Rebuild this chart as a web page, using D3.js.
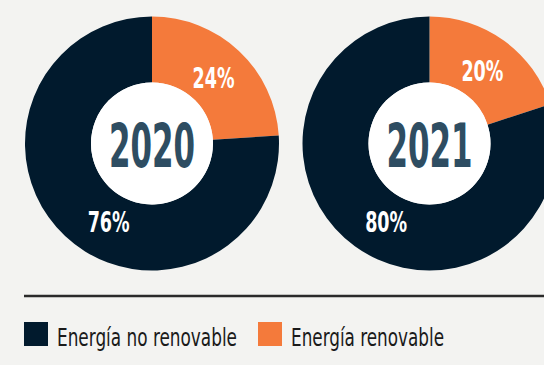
<!DOCTYPE html>
<html>
<head>
<meta charset="utf-8">
<script src="https://cdn.jsdelivr.net/npm/d3@7"></script>
<style>
  html, body { margin: 0; padding: 0; background: #f3f3f1; }
  svg { display: block; }
</style>
</head>
<body>
<svg id="chart" width="544" height="365"></svg>
<script>
// Energy mix by year: share of non-renewable vs renewable energy (%)
const years = ["2020", "2021"];
const categories = ["Energía no renovable", "Energía renovable"];
const nonRenewable = [76, 80];
const renewable = [24, 20];

const colors = ["#011a2d", "#f47a3b"];

const svg = d3.select("#chart");
const W = 544, H = 365;

svg.append("rect").attr("width", W).attr("height", H).attr("fill", "#f3f3f1");

// Donut geometry
const outerR = 127, innerR = 61;
const cx = d3.scalePoint().domain(years).range([152, 429.5]);
const cy = 143.5;

// Renewable slice starts at 12 o'clock and runs clockwise
const pie = d3.pie().sort(null).value(d => d.value)
  .startAngle(0).endAngle(2 * Math.PI);
const arc = d3.arc().innerRadius(innerR).outerRadius(outerR);

const labelFont = "'Liberation Sans Narrow', 'DejaVu Sans Condensed', 'Arial Narrow', sans-serif";

years.forEach((year, i) => {
  const data = [
    { key: categories[1], value: renewable[i], color: colors[1] },
    { key: categories[0], value: nonRenewable[i], color: colors[0] }
  ];
  const g = svg.append("g").attr("transform", `translate(${cx(year)},${cy})`);

  const arcs = pie(data);
  g.selectAll("path.slice").data(arcs).join("path")
    .attr("class", "slice")
    .attr("d", arc)
    .attr("fill", d => d.data.color);

  g.append("circle").attr("r", innerR).attr("fill", "#ffffff");

  g.append("text")
    .attr("x", 0).attr("y", 23.5)
    .attr("text-anchor", "middle")
    .attr("font-family", labelFont)
    .attr("font-weight", "bold")
    .attr("font-size", 61)
    .attr("fill", "#2e4d62")
    .attr("textLength", 86)
    .attr("lengthAdjust", "spacingAndGlyphs")
    .text(year);

  // Percentage labels: small slice at its mid-angle, large slice in the lower-left
  const labelR = 90;
  arcs.forEach(a => {
    const share = a.data.value / 100;
    const ang = share < 0.5 ? (a.startAngle + a.endAngle) / 2 : 2 * Math.PI * 0.58;
    const x = labelR * Math.sin(ang);
    const y = -labelR * Math.cos(ang);
    g.append("text")
      .attr("x", x).attr("y", y + 10)
      .attr("text-anchor", "middle")
      .attr("font-family", labelFont)
      .attr("font-weight", "bold")
      .attr("font-size", 28)
      .attr("fill", "#ffffff")
      .attr("textLength", 42)
      .attr("lengthAdjust", "spacingAndGlyphs")
      .text(a.data.value + "%");
  });
});

// Divider rule
svg.append("line")
  .attr("x1", 24).attr("x2", W)
  .attr("y1", 296).attr("y2", 296)
  .attr("stroke", "#2a2a2a").attr("stroke-width", 2.5);

// Legend
const legendItems = [
  { label: categories[0], color: colors[0], x: 24, w: 180 },
  { label: categories[1], color: colors[1], x: 258, w: 153 }
];
const lg = svg.append("g");
legendItems.forEach(it => {
  lg.append("rect")
    .attr("x", it.x).attr("y", 322)
    .attr("width", 24).attr("height", 24)
    .attr("fill", it.color);
  lg.append("text")
    .attr("x", it.x + 33).attr("y", 345.5)
    .attr("font-family", labelFont)
    .attr("font-size", 25)
    .attr("fill", "#1a1a1a")
    .attr("textLength", it.w)
    .attr("lengthAdjust", "spacingAndGlyphs")
    .text(it.label);
});
</script>
</body>
</html>
